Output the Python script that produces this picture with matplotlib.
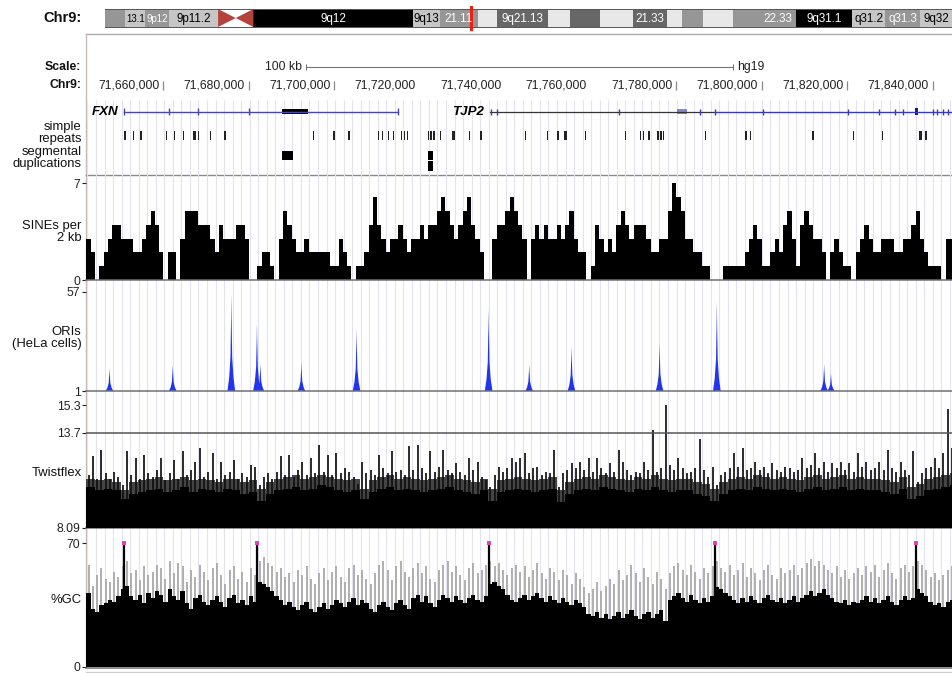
import numpy as np
import matplotlib
matplotlib.use("Agg")
import matplotlib.pyplot as plt

plt.rcParams['font.family'] = ['Liberation Sans', 'DejaVu Sans']

W, H = 953, 673
view = (71641.9, 71844.75)          # chr9 window, kb

# ---------------- data ----------------
# ideogram bands (Mb along chr9)
band_start = [35.5, 37.5, 39.5, 41.8, 50.2, 66.0, 68.7, 72.4, 74.3, 79.4, 81.6,
              84.5, 87.8, 91.2, 92.7, 94.7, 97.7, 100.4, 103.9, 109.5, 112.8, 116.2]
band_end = [37.5, 39.5, 41.8, 46.7, 66.0, 68.7, 72.4, 74.3, 79.4, 81.6, 84.5,
            87.8, 91.2, 92.7, 94.7, 97.7, 100.4, 103.9, 109.5, 112.8, 116.2, 119.5]
band_name = ["", "13.1", "9p12", "9p11.2", "9q12", "9q13", "21.11", "", "9q21.13", "", "",
             "", "21.33", "", "", "", "", "22.33", "9q31.1", "q31.2", "q31.3", "9q32"]
band_stain = ["gpos50", "gpos25", "gpos50", "gpos25", "gvar", "gpos25", "gpos50", "gneg",
              "gpos75", "gneg", "gpos75", "gneg", "gpos75", "gneg", "gpos50", "gneg",
              "gpos50", "gpos50", "gpos100", "gpos25", "gpos50", "gpos25"]
centromere = (46.7, 50.2)

coord_ticks = [71660, 71680, 71700, 71720, 71740, 71760, 71780, 71800, 71820, 71840]

# genes (kb)
fxn_span = (71650.7, 71715.0)
fxn_ticks = [71650.7, 71661.4, 71668.2, 71680.1, 71715.0]
fxn_block = (71687.8, 71693.9)
tjp2_start = 71736.5
tjp2_switch = 71789.1
tjp2_ticks = [71736.6, 71738.1, 71766.6, 71785.6, 71789.1, 71800.4, 71820.2, 71827.5,
              71831.2, 71833.1, 71840.1, 71841.1, 71842.5, 71843.6]
tjp2_utr = (71780.2, 71782.4)
tjp2_cds = (71835.9, 71836.6)

repeat_start = [71650.9, 71652.8, 71654.6, 71660.7, 71662.4, 71664.5, 71667.0, 71668.0,
                71671.0, 71674.3, 71695.1, 71699.8, 71703.1, 71703.5, 71710.3, 71711.2,
                71712.6, 71713.8, 71715.5, 71716.2, 71717.1, 71721.8, 71722.5, 71723.2,
                71724.8, 71727.6, 71731.4, 71734.2, 71744.7, 71749.8, 71752.2, 71753.8,
                71758.7, 71767.9, 71771.6, 71772.3, 71773.5, 71775.6, 71776.3, 71777.0,
                71786.8, 71796.2, 71797.3, 71811.8, 71821.4, 71828.2, 71836.9, 71838.3]
repeat_end = [71651.15, 71653.05, 71655.1, 71660.95, 71662.65, 71664.75, 71667.6, 71668.25,
              71671.25, 71674.55, 71695.35, 71700.05, 71703.35, 71703.75, 71710.55, 71711.45,
              71712.85, 71714.05, 71715.75, 71716.45, 71717.35, 71722.05, 71722.75, 71723.45,
              71725.05, 71728.2, 71731.65, 71734.45, 71744.95, 71750.05, 71752.45, 71754.4,
              71758.95, 71768.15, 71771.85, 71772.55, 71773.75, 71775.85, 71776.55, 71777.25,
              71787.05, 71796.45, 71797.55, 71812.15, 71821.65, 71828.45, 71837.6, 71838.55]

segdup_start = [71687.8, 71722.0, 71722.0]
segdup_end = [71690.4, 71723.2, 71723.2]
segdup_row = [0, 0, 1]

# SINEs per 2 kb, 1 kb steps from 71642 kb
sine_start = 71642.0
sines = [3, 2, 0, 1, 2, 3, 4, 4, 3, 3,
         3, 2, 2, 3, 4, 5, 4, 2, 0, 2,
         2, 0, 3, 5, 5, 5, 4, 4, 4, 3,
         2, 4, 3, 3, 3, 4, 4, 3, 0, 0,
         1, 2, 2, 1, 0, 3, 5, 4, 3, 2,
         2, 3, 2, 2, 2, 2, 2, 1, 1, 3,
         2, 1, 0, 1, 1, 2, 4, 6, 4, 3,
         2, 3, 3, 4, 3, 2, 3, 3, 4, 3,
         4, 4, 5, 6, 5, 4, 3, 4, 5, 6,
         4, 3, 2, 0, 0, 3, 4, 4, 5, 6,
         5, 4, 3, 0, 3, 4, 3, 4, 3, 3,
         4, 3, 4, 5, 3, 2, 2, 0, 1, 4,
         3, 2, 3, 2, 4, 5, 4, 3, 4, 4,
         4, 3, 2, 2, 3, 3, 5, 7, 6, 5,
         3, 3, 2, 2, 1, 1, 0, 0, 0, 1,
         1, 1, 1, 1, 2, 3, 4, 3, 1, 1,
         2, 3, 2, 4, 5, 3, 1, 4, 5, 4,
         3, 3, 2, 0, 2, 3, 2, 1, 1, 0,
         2, 3, 4, 3, 2, 2, 3, 3, 3, 2,
         2, 3, 3, 4, 5, 3, 2, 1, 1, 1,
         0, 3, 3]

# replication origins (HeLa), peak centre kb and height
ori_pos = [71647.4, 71662.2, 71675.9, 71681.9, 71682.7, 71692.3, 71705.2,
           71736.1, 71745.6, 71755.5, 71776.1, 71789.5, 71814.6, 71816.2]
ori_height = [13.9, 15.8, 55.7, 39.0, 16.6, 17.0, 36.0,
              47.5, 16.2, 26.2, 27.6, 51.3, 16.2, 11.0]

# Twistflex: solid core and dense band (2 kb steps), peak values (1 kb steps)
twist_core = [10.5, 10.3, 10.4, 10.3, 9.8, 10.1, 10.2, 10.3, 10.4, 10.2,
              10.3, 10.5, 10.2, 10.4, 10.3, 10.2, 10.4, 10.3, 10.1, 10.2,
              9.7, 10.1, 10.3, 10.4, 10.5, 10.3, 10.4, 10.6, 10.5, 10.3,
              10.2, 10.3, 9.8, 10.2, 10.4, 10.5, 10.3, 10.4, 10.3, 10.2,
              10.3, 10.4, 10.5, 10.3, 10.2, 10.1, 10.3, 9.7, 10.2, 10.3,
              10.4, 10.3, 10.2, 10.3, 10.4, 9.6, 10.1, 10.3, 10.4, 10.3,
              10.5, 10.4, 10.3, 10.2, 10.4, 10.3, 10.5, 10.3, 10.2, 10.3,
              10.3, 10.1, 10.0, 9.7, 10.1, 10.3, 10.4, 10.3, 10.5, 10.4,
              10.3, 10.4, 10.3, 10.2, 10.4, 10.5, 10.3, 10.4, 10.5, 10.3,
              10.4, 10.3, 10.3, 10.2, 10.1, 10.4, 9.8, 10.0, 10.3, 10.4, 10.5, 10.6]
twist_band = [11.0, 10.9, 11.0, 10.8, 10.3, 10.8, 10.9, 11.0, 11.1, 10.9,
              11.0, 11.1, 10.9, 11.0, 10.9, 10.8, 11.0, 11.0, 10.8, 10.9,
              10.4, 10.8, 11.0, 11.1, 11.2, 11.0, 11.1, 11.2, 11.1, 11.0,
              10.9, 11.0, 10.4, 10.9, 11.1, 11.2, 11.0, 11.1, 11.0, 10.9,
              11.0, 11.1, 11.2, 11.0, 10.9, 10.8, 11.0, 10.4, 10.9, 11.0,
              11.1, 11.0, 10.9, 11.0, 11.1, 10.3, 10.8, 11.0, 11.1, 11.0,
              11.2, 11.1, 11.0, 10.9, 11.1, 11.0, 11.2, 11.0, 10.9, 11.0,
              11.0, 10.8, 10.7, 10.4, 10.8, 11.0, 11.1, 11.0, 11.2, 11.1,
              11.0, 11.1, 11.0, 10.9, 11.1, 11.2, 11.0, 11.1, 11.2, 11.0,
              11.1, 11.0, 11.0, 10.9, 10.8, 11.1, 10.5, 10.7, 11.0, 11.1, 11.2, 11.3]
twist_peak = [11.2, 12.3, 11.0, 12.7, 11.3, 11.0, 11.4, 11.1, 10.6, 12.6,
              11.2, 12.2, 11.0, 12.4, 11.3, 11.1, 11.5, 12.2, 10.9, 11.3,
              12.1, 11.0, 12.6, 11.2, 11.5, 12.0, 12.8, 11.1, 11.4, 12.5,
              11.0, 12.0, 11.2, 11.4, 12.1, 11.0, 11.3, 11.1, 11.8, 11.7,
              10.6, 11.1, 11.3, 11.0, 11.4, 12.3, 11.2, 12.4, 11.1, 11.5,
              12.0, 11.2, 12.2, 11.3, 13.0, 11.4, 12.4, 11.2, 12.5, 11.3,
              11.6, 11.4, 11.1, 10.7, 12.0, 11.3, 11.5, 11.2, 12.4, 11.6,
              11.3, 12.6, 11.4, 11.5, 11.2, 12.9, 11.5, 13.0, 11.6, 11.3,
              12.6, 11.4, 11.7, 12.7, 11.5, 11.3, 11.9, 11.4, 11.2, 12.2,
              11.5, 12.0, 11.1, 10.9, 10.5, 11.2, 11.7, 11.4, 11.6, 12.2,
              12.0, 12.2, 12.5, 11.3, 11.6, 11.7, 11.2, 11.4, 11.3, 12.7,
              10.5, 11.3, 11.5, 11.9, 11.6, 12.0, 11.5, 12.2, 11.4, 12.2,
              11.6, 11.3, 11.9, 11.4, 12.7, 12.0, 11.5, 11.2, 11.4, 11.3,
              12.0, 11.5, 13.85, 11.4, 11.6, 15.3, 11.8, 11.5, 12.2, 11.6,
              11.3, 11.4, 11.6, 13.3, 11.5, 11.1, 11.7, 10.6, 11.2, 11.4,
              11.6, 12.5, 11.7, 12.8, 11.5, 11.6, 12.0, 11.5, 11.7, 11.3,
              11.9, 11.5, 11.4, 11.7, 11.6, 11.4, 11.5, 12.2, 11.6, 11.8,
              12.5, 11.6, 12.0, 11.4, 11.9, 11.6, 12.0, 11.5, 11.9, 11.4,
              12.5, 11.7, 12.0, 11.5, 11.6, 12.0, 11.5, 12.7, 11.6, 11.4,
              12.0, 11.5, 11.2, 12.6, 10.8, 11.3, 11.6, 11.7, 12.2, 11.6,
              12.5, 15.1, 12.8]

# %GC: mean (black) and max (grey), 1 kb steps
gc_mean = [42, 33, 31, 35, 36, 38, 37, 40, 44, 46,
           40, 38, 41, 36, 42, 39, 43, 41, 37, 44,
           40, 38, 43, 36, 33, 39, 41, 37, 35, 38,
           40, 37, 34, 39, 41, 36, 38, 35, 40, 37,
           48, 47, 45, 43, 40, 38, 35, 37, 34, 32,
           35, 37, 33, 31, 34, 36, 33, 35, 38, 36,
           34, 37, 39, 35, 38, 36, 33, 31, 35, 37,
           34, 32, 36, 38, 35, 33, 39, 41, 37, 40,
           36, 34, 38, 41, 39, 37, 40, 38, 36, 39,
           41, 38, 37, 40, 47, 48, 46, 44, 41, 38,
           37, 39, 41, 38, 40, 42, 39, 37, 40, 38,
           36, 39, 37, 35, 38, 36, 34, 30, 29, 31,
           28, 30, 27, 29, 31, 28, 30, 32, 29, 27,
           30, 31, 28, 30, 32, 26, 38, 40, 42, 39,
           37, 41, 38, 36, 39, 37, 40, 45, 44, 42,
           40, 38, 36, 39, 37, 40, 38, 36, 39, 41,
           38, 37, 39, 36, 38, 40, 37, 39, 41, 43,
           40, 42, 44, 41, 39, 37, 36, 38, 35, 37,
           36, 38, 40, 37, 39, 36, 38, 40, 37, 35,
           38, 40, 38, 39, 44, 42, 40, 37, 35, 36,
           34, 37, 38]
gc_max = [58, 46, 52, 56, 50, 48, 54, 51, 57, 60,
          53, 55, 49, 57, 52, 54, 58, 56, 50, 60,
          53, 59, 57, 48, 55, 51, 58, 54, 49, 56,
          59, 52, 47, 55, 57, 50, 54, 48, 56, 52,
          60, 62, 59, 57, 54, 56, 51, 53, 48, 55,
          52, 57, 50, 47, 53, 56, 49, 54, 57, 51,
          48, 56, 58, 52, 55, 50, 47, 53, 58, 60,
          55, 49, 57, 60, 54, 51, 56, 59, 53, 57,
          50, 48, 55, 58, 60, 54, 57, 52, 49, 56,
          59, 53, 55, 58, 60, 57, 59, 55, 52, 56,
          58, 54, 57, 51, 55, 59, 53, 50, 56, 54,
          49, 55, 52, 47, 53, 50, 45, 42, 44, 48,
          43, 46, 50, 47, 55, 49, 52, 58, 53, 48,
          56, 51, 47, 54, 50, 44, 53, 57, 59, 55,
          52, 58, 54, 50, 56, 53, 57, 60, 56, 54,
          58, 52, 55, 59, 51, 56, 53, 49, 55, 58,
          52, 50, 56, 53, 55, 58, 52, 56, 59, 61,
          57, 60, 58, 55, 53, 57, 51, 55, 50, 53,
          56, 52, 57, 54, 58, 51, 55, 59, 53, 50,
          56, 58, 54, 57, 60, 58, 55, 51, 53, 49,
          52, 55, 57]
gc_clip_pos = [71650.7, 71681.9, 71736.3, 71789.1, 71836.2]
gc_clip_val = [70, 70, 70, 70, 70]

# ---------------- drawing ----------------
fig = plt.figure(figsize=(W / 100, H / 100), dpi=100)


def add_px(x0, y0, x1, y1):
    return fig.add_axes([x0 / W, 1 - y1 / H, (x1 - x0) / W, (y1 - y0) / H])


def label(y, text, size=9.4, bold=False):
    fig.text(81.5 / W, 1 - y / H, text, ha='right', va='center', fontsize=size,
             linespacing=1.0, multialignment='right',
             fontweight='bold' if bold else 'normal', color='#111')


# frame lines
bg = add_px(0, 0, W, H)
bg.set_xlim(0, W)
bg.set_ylim(H, 0)
bg.axis('off')
bg.plot([86, W], [34, 34], color='#aaaaaa', lw=1)
bg.plot([86, 86], [34, 668], color='#c9b9b9', lw=1)
bg.plot([86, W], [175, 175], color='#8a8a8a', lw=1)
bg.plot([86, W], [671.5, 671.5], color='#cccccc', lw=1)

# light guide lines every 2 kb
guide = add_px(87, 100, W, 668)
guide.set_xlim(view)
guide.axis('off')
guide.vlines(np.arange(71642, 71846, 2), 0, 1, transform=guide.get_xaxis_transform(),
             color='#e2e2f3', lw=0.8)

# ideogram
stain_style = {'gneg': ('#e8e8e8', 'black'), 'gpos25': ('#c6c6c6', 'black'),
               'gpos50': ('#969696', 'white'), 'gpos75': ('#676767', 'white'),
               'gpos100': ('#000000', 'white'), 'gvar': ('#000000', 'white')}
ideo = add_px(105, 9, W, 27)
ideo.set_xlim(band_start[0], band_end[-1])
ideo.set_ylim(0, 1)
for s, e, n, st in zip(band_start, band_end, band_name, band_stain):
    fc, tc = stain_style[st]
    ideo.bar(s, 1, width=e - s, bottom=0, align='edge', color=fc, lw=0)
    if n:
        ideo.text((s + e) / 2, 0.47, n, ha='center', va='center', color=tc,
                  fontsize=8.4 if e - s > 2.6 else 6.9)
cmid = sum(centromere) / 2
ideo.fill([centromere[0], centromere[0], cmid], [0, 1, 0.5], color='#b3433b', lw=0)
ideo.fill([centromere[1], centromere[1], cmid], [0, 1, 0.5], color='#b3433b', lw=0)
ideo.axvline(sum(view) / 2000, ymin=-0.12, ymax=1.12, clip_on=False, color='#f02010', lw=2.2)
ideo.set_xticks([])
ideo.set_yticks([])
for s in ['left', 'right']:
    ideo.spines[s].set_visible(False)
for s in ['top', 'bottom']:
    ideo.spines[s].set_color('#555555')
    ideo.spines[s].set_linewidth(0.7)
fig.text(81.5 / W, 1 - 17.5 / H, 'Chr9:', ha='right', va='center', fontsize=10.5,
         fontweight='bold', color='#111')

# scale and coordinates
rul = add_px(86, 40, W, 98)
rul.set_xlim(view)
rul.set_ylim(98, 40)
rul.axis('off')
mid = sum(view) / 2
rul.plot([mid - 50, mid + 50], [66.7, 66.7], color='#777777', lw=0.8)
rul.vlines([mid - 50, mid + 50], 63.5, 70, color='#777777', lw=0.8)
rul.annotate('100 kb', (mid - 50, 66.7), xytext=(-4, 0), textcoords='offset pixels',
             ha='right', va='center', fontsize=8.8, color='#222')
rul.annotate('hg19', (mid + 50, 66.7), xytext=(4, 0), textcoords='offset pixels',
             ha='left', va='center', fontsize=8.8, color='#222')
no_bar = {71720, 71740, 71760}
for t in coord_ticks:
    rul.annotate(f"{t * 1000:,}", (t, 85), xytext=(-4, 0), textcoords='offset pixels',
                 ha='right', va='center', fontsize=8.8, color='#222')
    if t not in no_bar:
        rul.vlines(t, 80.5, 89.5, color='#888888', lw=0.9)
label(66.7, 'Scale:', size=8.8, bold=True)
label(85, 'Chr9:', size=8.8, bold=True)

# genes, repeats, segmental duplications
feat = add_px(86, 100, W, 175)
feat.set_xlim(view)
feat.set_ylim(175, 100)
feat.axis('off')
gy = 111.7
feat.plot(fxn_span, [gy, gy], color='#4848a8', lw=1)
feat.vlines(fxn_ticks, gy - 3.5, gy + 3.5, color='#4848a8', lw=1)
feat.bar(fxn_block[0], 5.5, width=fxn_block[1] - fxn_block[0], bottom=gy - 2.75,
         align='edge', color='black', lw=0)
feat.annotate('FXN', (fxn_span[0], gy), xytext=(-5, 0), textcoords='offset pixels',
              ha='right', va='center', fontsize=9.6, fontweight='bold', fontstyle='italic')
feat.plot([tjp2_start, tjp2_switch], [gy, gy], color='#333333', lw=0.9)
feat.plot([tjp2_switch, view[1]], [gy, gy], color='#3a3ab5', lw=1)
feat.vlines(tjp2_ticks, gy - 3, gy + 3, color='#3a3ab5', lw=1)
feat.bar(tjp2_utr[0], 5, width=tjp2_utr[1] - tjp2_utr[0], bottom=gy - 2.5,
         align='edge', color='#8484d4', lw=0)
feat.bar(tjp2_cds[0], 7, width=tjp2_cds[1] - tjp2_cds[0], bottom=gy - 3.5,
         align='edge', color='#1a1a8a', lw=0)
feat.annotate('TJP2', (tjp2_start, gy), xytext=(-6, 0), textcoords='offset pixels',
              ha='right', va='center', fontsize=9.6, fontweight='bold', fontstyle='italic')

rs = np.array(repeat_start)
re_ = np.array(repeat_end)
feat.bar(rs, 9, width=re_ - rs, bottom=130.5, align='edge', color='#222222', lw=0)
label(133, 'simple\nrepeats')

for s, e, r in zip(segdup_start, segdup_end, segdup_row):
    feat.bar(s, 9.6, width=e - s, bottom=150.5 + r * 10.6, align='edge', color='black', lw=0)
label(158.5, 'segmental\nduplications')


def track(y0, y1, ylim, ticks, ticklabels):
    ax = add_px(86, y0, W, y1)
    ax.set_xlim(view)
    ax.set_ylim(ylim)
    ax.patch.set_alpha(0)
    for s in ['top', 'right', 'left']:
        ax.spines[s].set_visible(False)
    ax.spines['bottom'].set_color('#707070')
    ax.spines['bottom'].set_linewidth(1.1)
    ax.set_xticks([])
    ax.set_yticks(ticks)
    ax.set_yticklabels(ticklabels)
    ax.tick_params(axis='y', length=3, width=0.8, colors='#222', labelsize=8.8, pad=1)
    return ax


# SINEs
ax = track(176, 280, (0, 7.53), [0, 7], ['0', '7'])
edges = sine_start + np.arange(len(sines) + 1)
ax.stairs(sines, edges, baseline=0, fill=True, color='black')
label(231.7, 'SINEs per\n2 kb')

# ORIs
ax = track(281, 391, (1, 63), [1, 57], ['1', '57'])
dx = [-0.9, -0.5, -0.2, -0.06, 0, 0.06, 0.2, 0.5, 0.9]
fr = [0, 0.14, 0.35, 0.75, 1, 0.75, 0.35, 0.14, 0]
for p, h in zip(ori_pos, ori_height):
    ax.fill([p + d for d in dx], [1 + f * (h - 1) for f in fr], color='#1f35f0', lw=0)
label(338, 'ORIs\n(HeLa cells)')

# Twistflex
ax = track(392, 528, (8.09, 16.09), [8.09, 13.7, 15.3], ['8.09', '13.7', '15.3'])
cedges = 71642.0 + 2 * np.arange(len(twist_core) + 1)
ax.stairs(twist_band, cedges, baseline=8.09, fill=True, color='#444444', zorder=1)
tcenters = 71642.5 + np.arange(len(twist_peak))
ax.vlines(tcenters, 8.09, twist_peak, color='#111111', lw=1.25, zorder=2)
ax.stairs(twist_core, cedges, baseline=8.09, fill=True, color='black', zorder=3)
ax.axhline(13.7, color='#555555', lw=1.1, zorder=4)
label(473.3, 'Twistflex')

# %GC
ax = track(531, 668, (-0.57, 76.96), [0, 70], ['0', '70'])
gcenters = 71642.5 + np.arange(len(gc_max))
ax.vlines(gcenters, 0, gc_max, color='#a9a9a9', lw=1.3, zorder=1)
gedges = 71642.0 + np.arange(len(gc_mean) + 1)
ax.stairs(gc_mean, gedges, baseline=0, fill=True, color='black', zorder=2)
ax.vlines(gc_clip_pos, 0, gc_clip_val, color='black', lw=1.6, zorder=3)
ax.scatter(gc_clip_pos, gc_clip_val, s=5, marker='s', color='#e040c0', lw=0, zorder=5)
label(600, '%GC')

fig.savefig('out.png', dpi=100)
